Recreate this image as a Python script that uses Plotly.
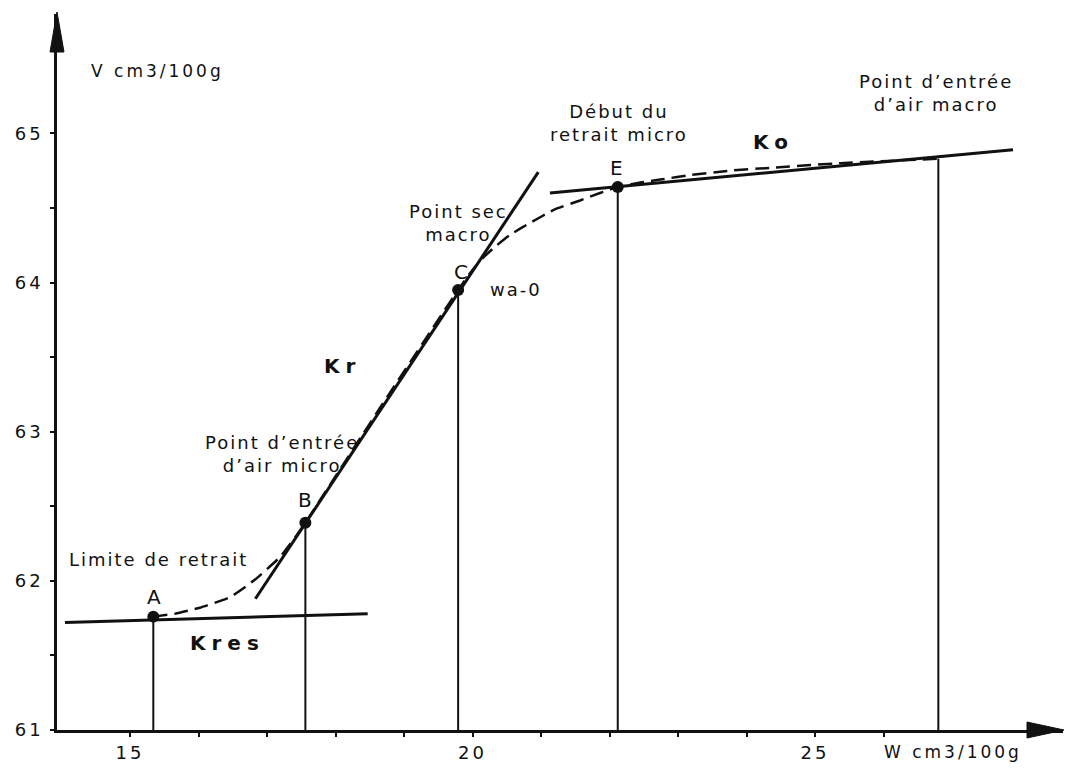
import plotly.graph_objects as go

# ---------------- data ----------------
point_names = ["A", "B", "C", "E", "macro"]
point_w = [15.34, 17.56, 19.79, 22.12, 26.80]
point_v = [61.76, 62.39, 63.95, 64.64, 64.83]

# tangent lines
kres_w = [14.05, 18.47]
kres_v = [61.72, 61.78]
kr_w = [16.83, 20.96]
kr_v = [61.88, 64.74]
ko_w = [21.13, 27.89]
ko_v = [64.60, 64.89]

# measured shrinkage curve (dashed)
curve_w = [15.34, 15.66, 16.02, 16.46, 16.83, 17.19, 17.44, 17.56, 18.65, 19.79,
           19.96, 20.14, 20.33, 20.55, 20.84, 21.20, 21.57, 21.86, 22.12, 22.45,
           22.74, 23.18, 23.76, 24.39, 25.37, 26.80]
curve_v = [61.76, 61.78, 61.82, 61.89, 62.01, 62.16, 62.31, 62.39, 63.16, 63.95,
           64.06, 64.16, 64.24, 64.32, 64.40, 64.49, 64.55, 64.60, 64.64, 64.67,
           64.69, 64.72, 64.75, 64.77, 64.80, 64.83]

x_major = [15, 20, 25]
x_minor = [16, 17, 18, 19, 21, 22, 23, 24, 26]
y_major = [61, 62, 63, 64, 65]
y_minor = [61.5, 62.5, 63.5, 64.5]

x_range = [13.934, 28.62]
y_range = [61.0, 65.8]

FONT = "DejaVu Sans"
INK = "#111111"

fig = go.Figure()

# vertical drop lines from each characteristic point to the W axis
drop_x, drop_y = [], []
for w, v in zip(point_w, point_v):
    drop_x += [w, w, None]
    drop_y += [v, y_range[0], None]
fig.add_trace(go.Scatter(x=drop_x, y=drop_y, mode="lines",
                         line=dict(color=INK, width=2), hoverinfo="skip"))

# dashed measured curve
fig.add_trace(go.Scatter(x=curve_w, y=curve_v, mode="lines",
                         line=dict(color=INK, width=2.5, dash="14px,7px", shape="spline", smoothing=0.4),
                         hoverinfo="skip"))

# tangent lines
for lw, lv in [(kres_w, kres_v), (kr_w, kr_v), (ko_w, ko_v)]:
    fig.add_trace(go.Scatter(x=lw, y=lv, mode="lines",
                             line=dict(color=INK, width=3), hoverinfo="skip"))

# dots
fig.add_trace(go.Scatter(x=point_w[:4], y=point_v[:4], mode="markers",
                         marker=dict(color=INK, size=12), hoverinfo="skip"))

def ann(text, x, y, size=18, bold=False, xanchor="center", yref="y"):
    fig.add_annotation(x=x, y=y, yref=yref, text=text, showarrow=False, xanchor=xanchor,
                       yanchor="middle", align="center",
                       font=dict(family=FONT, size=size, color=INK,
                                 weight="bold" if bold else "normal"))

ann("V cm3/100g", 14.62, 65.42, size=17, xanchor="left")
ann("Limite de retrait", 15.41, 62.14, size=18)
ann(point_names[0], 15.37, 61.89, size=20)
ann("Kres", 16.43, 61.58, size=20, bold=True)
ann("Point d’entrée<br>d’air micro", 17.22, 62.85, size=18)
ann(point_names[1], 17.57, 62.54, size=20)
ann("Kr", 18.10, 63.44, size=20, bold=True)
ann("Point sec<br>macro", 19.79, 64.40, size=18)
ann(point_names[2], 19.85, 64.07, size=20)
ann("wa-0", 20.64, 63.95, size=18)
ann(point_names[3], 22.11, 64.77, size=20)
ann("Début du<br>retrait micro", 22.14, 65.07, size=18)
ann("Ko", 24.39, 64.94, size=20, bold=True)
ann("Point d’entrée<br>d’air macro", 26.77, 65.27, size=18)
ann("W cm3/100g", 26.20, -0.031, size=17, xanchor="left", yref="paper")

# arrow heads on the axes (pixel-sized shapes anchored at the axis ends)
fig.add_shape(type="path", xref="paper", yref="paper", xsizemode="pixel", ysizemode="pixel",
              xanchor=0, yanchor=1,
              path="M -7,-38 L 0,2 L 7,-38 Z", fillcolor=INK, line=dict(color=INK, width=1))
fig.add_shape(type="path", xref="paper", yref="paper", xsizemode="pixel", ysizemode="pixel",
              xanchor=1, yanchor=0,
              path="M -36,-8 L 1,0 L -36,8 Z", fillcolor=INK, line=dict(color=INK, width=1))

axis_common = dict(showgrid=False, zeroline=False, showline=True, linecolor=INK, linewidth=2.5,
                   ticks="outside", ticklen=4, tickwidth=2, tickcolor=INK,
                   tickfont=dict(family=FONT, size=18, color=INK))

fig.update_xaxes(range=x_range, tickmode="array", tickvals=x_major,
                 ticktext=[str(v) for v in x_major], ticklabelstandoff=1,
                 minor=dict(tickmode="array", tickvals=x_minor, ticks="outside",
                            ticklen=4, tickwidth=2, tickcolor=INK),
                 **axis_common)
fig.update_yaxes(range=y_range, tickmode="array", tickvals=y_major,
                 ticktext=[str(v) for v in y_major], ticklabelstandoff=3,
                 minor=dict(tickmode="array", tickvals=y_minor, ticks="outside",
                            ticklen=4, tickwidth=2, tickcolor=INK),
                 **axis_common)

fig.update_layout(width=1065, height=772, showlegend=False,
                  margin=dict(l=57, r=2, t=14, b=42, autoexpand=False),
                  paper_bgcolor="white", plot_bgcolor="white")

post = """
var st = document.createElement('style');
st.textContent = 'html,body{margin:0;padding:0;} .annotation-text{letter-spacing:2px;} .xtick text, .ytick text{letter-spacing:3px;}';
document.head.appendChild(st);
document.querySelectorAll('.annotation-text').forEach(function(t){
  var s = t.textContent;
  if (/^K/.test(s)) { t.style.letterSpacing = '6px'; }
  else if (/cm3/.test(s)) { t.style.letterSpacing = '3px'; }
});
"""

fig.write_html("out.html", post_script=post, config={"displayModeBar": False})
